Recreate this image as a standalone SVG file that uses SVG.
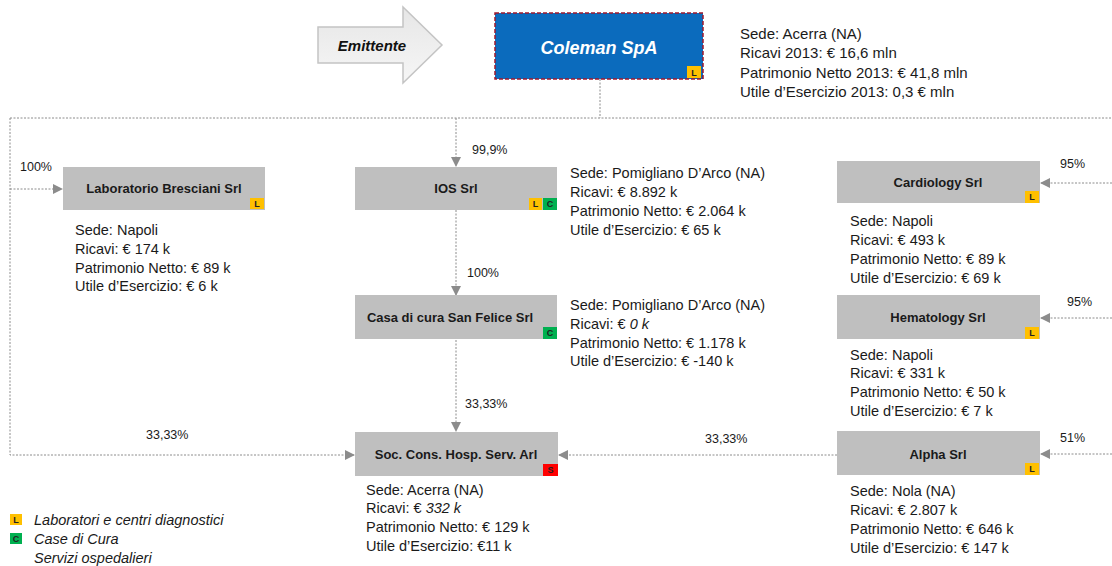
<svg xmlns="http://www.w3.org/2000/svg" width="1112" height="566" viewBox="0 0 1112 566">
<defs>
<linearGradient id="g1" x1="0" y1="0" x2="0" y2="1"><stop offset="0" stop-color="#e6e6e6"/><stop offset="1" stop-color="#f6f6f6"/></linearGradient>
<marker id="ah" markerWidth="10" markerHeight="10" refX="9" refY="5" orient="auto" markerUnits="userSpaceOnUse"><path d="M0,0 L10,5 L0,10 z" fill="#8c8c8c"/></marker>
<style>
text{font-family:"Liberation Sans",Arial,sans-serif;}
.box{fill:#bfbfbf;}
.title{font-size:13px;font-weight:bold;fill:#1a1a1a;text-anchor:middle;}
.info{font-size:14.5px;fill:#1a1a1a;}
.cinfo{font-size:15px;fill:#1a1a1a;}
.pct{font-size:12.5px;fill:#1a1a1a;}
.ln{fill:none;stroke:#8c8c8c;stroke-width:1;stroke-dasharray:2,1.5;}
.bL{fill:#ffc000;}
.bC{fill:#00b050;}
.bS{fill:#ff0000;}
.bt{font-size:9px;font-weight:bold;fill:#222;text-anchor:middle;}
.leg{font-size:14.5px;font-style:italic;fill:#1a1a1a;}
</style>
</defs>
<rect width="1112" height="566" fill="#ffffff"/>

<g id="emittente">
<path d="M318,27 L403,27 L403,7 L442,45 L403,83 L403,63 L318,63 z" fill="url(#g1)" stroke="#c4c4c4" stroke-width="1.5"/>
<text x="372" y="51" font-size="15" font-weight="bold" font-style="italic" text-anchor="middle" fill="#111">Emittente</text>
</g>

<g id="connectors">
<path class="ln" d="M600,79 L600,118"/>
<path class="ln" d="M10,118 L1112,118"/>
<path class="ln" d="M456,118 L456,166" marker-end="url(#ah)"/>
<path class="ln" d="M456,210 L456,295" marker-end="url(#ah)"/>
<path class="ln" d="M456,340 L456,431" marker-end="url(#ah)"/>
<path class="ln" d="M10,118 L10,455 L354,455" marker-end="url(#ah)"/>
<path class="ln" d="M10,189 L62,189" marker-end="url(#ah)"/>
<path class="ln" d="M1112,183 L1041,183" marker-end="url(#ah)"/>
<path class="ln" d="M1112,318 L1041,318" marker-end="url(#ah)"/>
<path class="ln" d="M1112,454 L1041,454" marker-end="url(#ah)"/>
<path class="ln" d="M837,455 L559,455" marker-end="url(#ah)"/>
<text class="pct" x="20" y="171">100%</text>
<text class="pct" x="472" y="154">99,9%</text>
<text class="pct" x="467" y="277">100%</text>
<text class="pct" x="465" y="408">33,33%</text>
<text class="pct" x="146" y="439">33,33%</text>
<text class="pct" x="705" y="443">33,33%</text>
<text class="pct" x="1060" y="168">95%</text>
<text class="pct" x="1067" y="306">95%</text>
<text class="pct" x="1060" y="442">51%</text>
</g>

<g id="coleman">
<rect x="495" y="13" width="208" height="66" fill="#0b6bbd" stroke="#9e1a2e" stroke-width="1.5" stroke-dasharray="4,2"/>
<text x="599" y="54" font-size="18" font-weight="bold" font-style="italic" text-anchor="middle" fill="#ffffff">Coleman SpA</text>
<rect class="bL" x="687" y="66" width="14" height="12"/>
<text class="bt" x="694" y="75.5">L</text>
<text class="cinfo" x="740" y="39">Sede: Acerra (NA)</text>
<text class="cinfo" x="740" y="58">Ricavi 2013: € 16,6 mln</text>
<text class="cinfo" x="740" y="78">Patrimonio Netto 2013: € 41,8 mln</text>
<text class="cinfo" x="740" y="97">Utile d’Esercizio 2013: 0,3 € mln</text>
</g>

<g id="laboratorio">
<rect class="box" x="63" y="167" width="202" height="43"/>
<text class="title" x="164" y="193">Laboratorio  Bresciani Srl</text>
<rect class="bL" x="250" y="198" width="14" height="11"/>
<text class="bt" x="257" y="207">L</text>
<text class="info" x="75" y="235">Sede: Napoli</text>
<text class="info" x="75" y="254">Ricavi: € 174 k</text>
<text class="info" x="75" y="273">Patrimonio Netto: € 89  k</text>
<text class="info" x="75" y="291">Utile d’Esercizio: € 6 k</text>
</g>

<g id="ios">
<rect class="box" x="355" y="167" width="202" height="43"/>
<text class="title" x="456" y="193">IOS Srl</text>
<rect class="bL" x="529" y="198" width="13" height="12"/>
<text class="bt" x="535.5" y="207">L</text>
<rect class="bC" x="543" y="198" width="14" height="12"/>
<text class="bt" x="550" y="207">C</text>
<text class="info" x="570" y="178">Sede: Pomigliano D’Arco (NA)</text>
<text class="info" x="570" y="197">Ricavi: € 8.892  k</text>
<text class="info" x="570" y="216">Patrimonio Netto: € 2.064  k</text>
<text class="info" x="570" y="235">Utile d’Esercizio: € 65  k</text>
</g>

<g id="casa">
<rect class="box" x="355" y="295" width="202" height="44"/>
<text class="title" x="450" y="322">Casa di cura  San Felice Srl</text>
<rect class="bC" x="543" y="327" width="14" height="12"/>
<text class="bt" x="550" y="336">C</text>
<text class="info" x="570" y="310">Sede: Pomigliano D’Arco (NA)</text>
<text class="info" x="570" y="329">Ricavi: € <tspan font-style="italic">0 k</tspan></text>
<text class="info" x="570" y="348">Patrimonio Netto: € 1.178  k</text>
<text class="info" x="570" y="366">Utile d’Esercizio: € -140  k</text>
</g>

<g id="soc">
<rect class="box" x="355" y="432" width="203" height="44"/>
<text class="title" x="456" y="459">Soc. Cons. Hosp. Serv. Arl</text>
<rect class="bS" x="543" y="464" width="15" height="12"/>
<text class="bt" x="550.5" y="473">S</text>
<text class="info" x="366" y="495">Sede: Acerra (NA)</text>
<text class="info" x="366" y="513">Ricavi: € <tspan font-style="italic">332 k</tspan></text>
<text class="info" x="366" y="532">Patrimonio Netto: € 129  k</text>
<text class="info" x="366" y="551">Utile d’Esercizio: €11  k</text>
</g>

<g id="cardiology">
<rect class="box" x="837" y="161" width="203" height="42"/>
<text class="title" x="938" y="187">Cardiology Srl</text>
<rect class="bL" x="1025" y="191" width="14" height="12"/>
<text class="bt" x="1032" y="200">L</text>
<text class="info" x="850" y="226">Sede: Napoli</text>
<text class="info" x="850" y="245">Ricavi: € 493  k</text>
<text class="info" x="850" y="264">Patrimonio Netto: € 89  k</text>
<text class="info" x="850" y="283">Utile d’Esercizio: € 69  k</text>
</g>

<g id="hematology">
<rect class="box" x="837" y="295" width="203" height="44"/>
<text class="title" x="938" y="322">Hematology Srl</text>
<rect class="bL" x="1025" y="327" width="14" height="12"/>
<text class="bt" x="1032" y="336">L</text>
<text class="info" x="850" y="360">Sede: Napoli</text>
<text class="info" x="850" y="378">Ricavi: € 331  k</text>
<text class="info" x="850" y="397">Patrimonio Netto: € 50  k</text>
<text class="info" x="850" y="416">Utile d’Esercizio: € 7  k</text>
</g>

<g id="alpha">
<rect class="box" x="837" y="431" width="203" height="44"/>
<text class="title" x="938" y="459">Alpha Srl</text>
<rect class="bL" x="1025" y="463" width="14" height="12"/>
<text class="bt" x="1032" y="472">L</text>
<text class="info" x="850" y="496">Sede: Nola (NA)</text>
<text class="info" x="850" y="515">Ricavi: € 2.807  k</text>
<text class="info" x="850" y="534">Patrimonio Netto: € 646  k</text>
<text class="info" x="850" y="553">Utile d’Esercizio: € 147  k</text>
</g>

<g id="legend">
<rect class="bL" x="10" y="514" width="12" height="11"/>
<text class="bt" x="16" y="522.5">L</text>
<text class="leg" x="34" y="525">Laboratori e centri  diagnostici</text>
<rect class="bC" x="10" y="533" width="12" height="11"/>
<text class="bt" x="16" y="541.5">C</text>
<text class="leg" x="34" y="544">Case di Cura</text>
<text class="leg" x="34" y="563">Servizi ospedalieri</text>
</g>
</svg>
